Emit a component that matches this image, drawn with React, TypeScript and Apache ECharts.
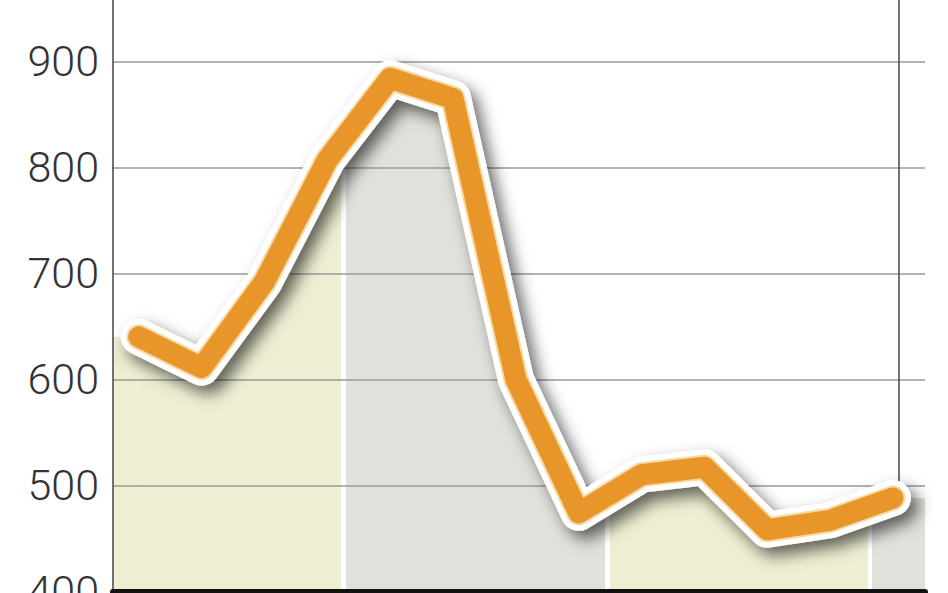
import React, { useEffect, useRef } from "react";
import * as echarts from "echarts";

// Data (index along x, value on y)
const values: number[] = [640, 611, 692, 807, 884, 865, 600, 474, 510, 517, 458, 467, 488];
const yTicks: number[] = [400, 500, 600, 700, 800, 900];
// band boundaries (in x-index units) separating the shaded periods
const bandEdges: number[] = [3.22, 3.3, 7.42, 7.5, 11.6, 11.67];
const bandColors: string[] = ["#eeeed3", "#e1e1dc"];
const markerX = 12.1;

const X_MIN = -0.41;
const X_MAX = 12.51;
const Y_MIN = 400;
const Y_MAX = 1000;

export default function App() {
  const ref = useRef<HTMLDivElement>(null);
  useEffect(() => {
    if (!ref.current) return;
    const chart = echarts.init(ref.current, null, { renderer: "svg" });
    const data = values.map((v, i) => [i, v]);
    const last = values.length - 1;
    const [e0, e1, e2, e3, e4, e5] = bandEdges;
    const [yellow, grey] = bandColors;
    chart.setOption({
      animation: false,
      backgroundColor: "#ffffff",
      grid: { left: 113, right: 23, top: 5.3, bottom: 58.7, containLabel: false },
      xAxis: {
        type: "value",
        min: X_MIN,
        max: X_MAX,
        z: 5,
        axisLine: { show: true, onZero: false, lineStyle: { color: "#111", width: 6 } },
        axisTick: { show: false },
        axisLabel: { show: false },
        splitLine: { show: false },
      },
      yAxis: {
        type: "value",
        min: Y_MIN,
        max: Y_MAX,
        interval: 100,
        z: 5,
        axisLine: { show: true, onZero: false, lineStyle: { color: "#444", width: 1.5 } },
        axisTick: { show: false },
        splitLine: { show: true, lineStyle: { color: "#9a9a9a", width: 1.5 } },
        axisLabel: {
          margin: 14,
          fontSize: 43,
          fontFamily: "Roboto",
          fontWeight: 300,
          color: "#333",
          formatter: (v: number) => (yTicks.includes(v) ? String(v) : ""),
        },
      },
      visualMap: {
        type: "piecewise",
        show: false,
        seriesIndex: 0,
        dimension: 0,
        pieces: [
          { lt: e0, color: yellow },
          { gte: e0, lt: e1, color: "#ffffff" },
          { gte: e1, lt: e2, color: grey },
          { gte: e2, lt: e3, color: "#ffffff" },
          { gte: e3, lt: e4, color: yellow },
          { gte: e4, lt: e5, color: "#ffffff" },
          { gte: e5, color: grey },
        ],
      },
      series: [
        {
          type: "line",
          data,
          z: 1,
          symbol: "none",
          silent: true,
          lineStyle: { width: 0, opacity: 0 },
          areaStyle: { opacity: 1 },
          markArea: {
            silent: true,
            data: [
              [
                { coord: [X_MIN, Y_MIN], itemStyle: { color: yellow, opacity: 1 } },
                { coord: [0, values[0]] },
              ],
              [
                { coord: [last, Y_MIN], itemStyle: { color: grey, opacity: 1 } },
                { coord: [X_MAX, values[last]] },
              ],
            ],
          },
          markLine: {
            silent: true,
            symbol: "none",
            label: { show: false },
            lineStyle: { color: "#444", width: 1.5, type: "solid" },
            data: [[{ coord: [markerX, Y_MAX] }, { coord: [markerX, values[last]] }]],
          },
        },
        {
          type: "line",
          data,
          z: 10,
          symbol: "none",
          silent: true,
          lineStyle: {
            width: 36,
            color: "#ffffff",
            cap: "round",
            join: "round",
            shadowBlur: 16,
            shadowColor: "rgba(0,0,0,0.6)",
            shadowOffsetX: 7,
            shadowOffsetY: 8,
          },
        },
        {
          type: "line",
          data,
          z: 11,
          symbol: "none",
          silent: true,
          lineStyle: { width: 25, color: "#f6d9a3", cap: "round", join: "round" },
        },
        {
          type: "line",
          data,
          z: 12,
          symbol: "none",
          silent: true,
          lineStyle: { width: 21, color: "#e8952a", cap: "round", join: "round" },
          markPoint: {
            silent: true,
            symbol: "circle",
            symbolSize: 13,
            label: { show: false },
            itemStyle: { color: "#ffffff" },
            data: [{ coord: [last, values[last]] }],
          },
        },
      ],
    });
    return () => chart.dispose();
  }, []);
  return (
    <div style={{ position: "fixed", left: 0, top: 0, width: 948, height: 593, overflow: "hidden", background: "#fff" }}>
      <div ref={ref} style={{ position: "absolute", left: 0, top: -50, width: 948, height: 700 }} />
    </div>
  );
}
